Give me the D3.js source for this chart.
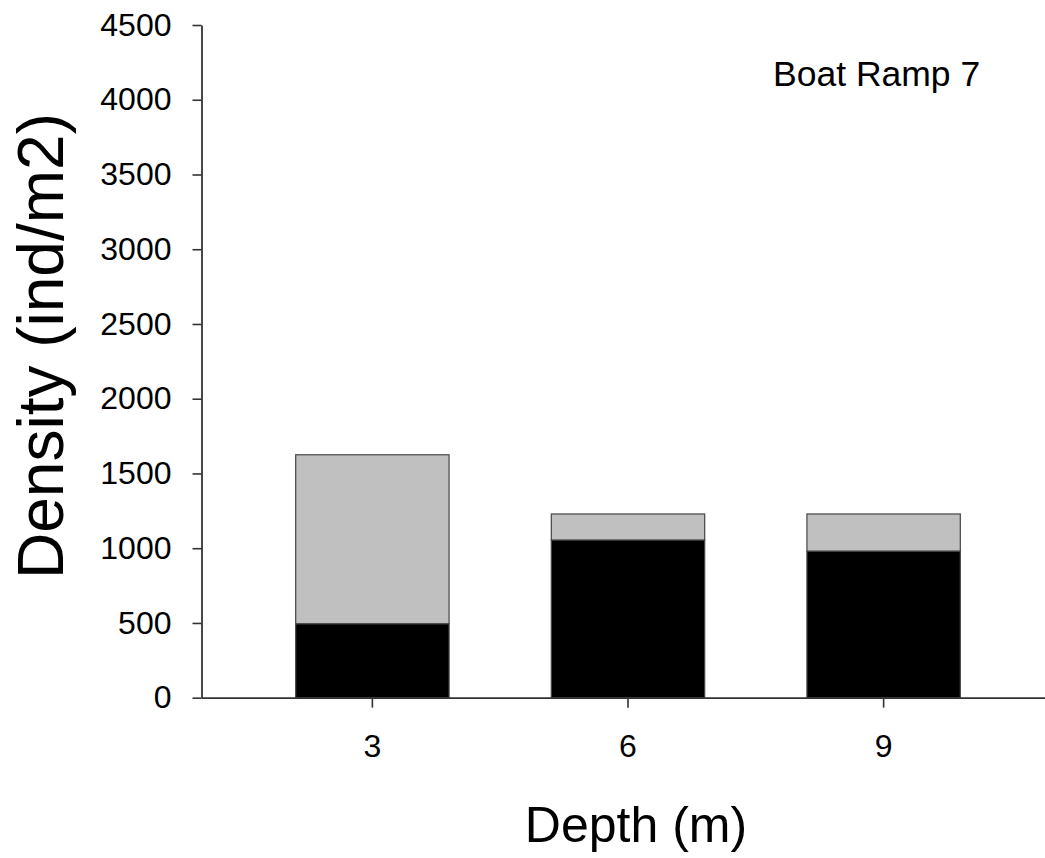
<!DOCTYPE html>
<html>
<head>
<meta charset="utf-8">
<script src="https://d3js.org/d3.v7.min.js"></script>
<style>
  html, body { margin: 0; padding: 0; background: #fff; }
  svg { display: block; }
  text { font-family: "Liberation Sans", Arial, sans-serif; fill: #000; }
</style>
</head>
<body>
<script>
// Depth categories and stacked densities (ind/m2)
const depths = ["3", "6", "9"];
const lowerValues = [495, 1055, 981];   // black segment
const upperValues = [1130, 174, 248];   // grey segment stacked on top
const yTicks = [0, 500, 1000, 1500, 2000, 2500, 3000, 3500, 4000, 4500];
const panelTitle = "Boat Ramp 7";

const width = 1045, height = 858;
const svg = d3.select("body").append("svg")
  .attr("width", width).attr("height", height);

const rows = depths.map((d, i) => ({ depth: d, lower: lowerValues[i], upper: upperValues[i] }));
const stacked = d3.stack().keys(["lower", "upper"])(rows);
const fills = { lower: "#000000", upper: "#c0c0c0" };

const x = d3.scaleBand().domain(depths)
  .range([201.5, 1054.5]).paddingInner(0.4).paddingOuter(0.3685);
const y = d3.scaleLinear().domain([0, 4500]).range([697.7, 25]);

// stacked bars
svg.append("g").selectAll("g").data(stacked).join("g")
  .attr("fill", d => fills[d.key])
  .selectAll("rect").data(d => d).join("rect")
    .attr("x", d => x(d.data.depth))
    .attr("width", x.bandwidth())
    .attr("y", d => y(d[1]))
    .attr("height", d => y(d[0]) - y(d[1]))
    .attr("stroke", "#444")
    .attr("stroke-width", 1.2);

// y axis
const yAxis = svg.append("g").attr("transform", "translate(201.5,0)")
  .call(d3.axisLeft(y).tickValues(yTicks).tickFormat(d3.format("d"))
    .tickSize(9).tickSizeOuter(0).tickPadding(21));
// x axis
const xAxis = svg.append("g").attr("transform", "translate(0,697.7)")
  .call(d3.axisBottom(x).tickSize(10).tickSizeOuter(0).tickPadding(27));

[yAxis, xAxis].forEach(g => {
  g.select(".domain").attr("stroke", "#333").attr("stroke-width", 1.8);
  g.selectAll(".tick line").attr("stroke", "#333").attr("stroke-width", 1.6);
  g.selectAll(".tick text").attr("font-size", 32)
    .attr("font-family", "'Liberation Sans', Arial, sans-serif").attr("fill", "#000");
});

// axis titles
svg.append("text")
  .attr("transform", "translate(63,346) rotate(-90)")
  .attr("text-anchor", "middle")
  .attr("font-size", 64)
  .text("Density (ind/m2)");

svg.append("text")
  .attr("x", 636).attr("y", 842)
  .attr("text-anchor", "middle")
  .attr("font-size", 50)
  .text("Depth (m)");

// panel label
svg.append("text")
  .attr("x", 773).attr("y", 86)
  .attr("font-size", 35.5)
  .text(panelTitle);
</script>
</body>
</html>
